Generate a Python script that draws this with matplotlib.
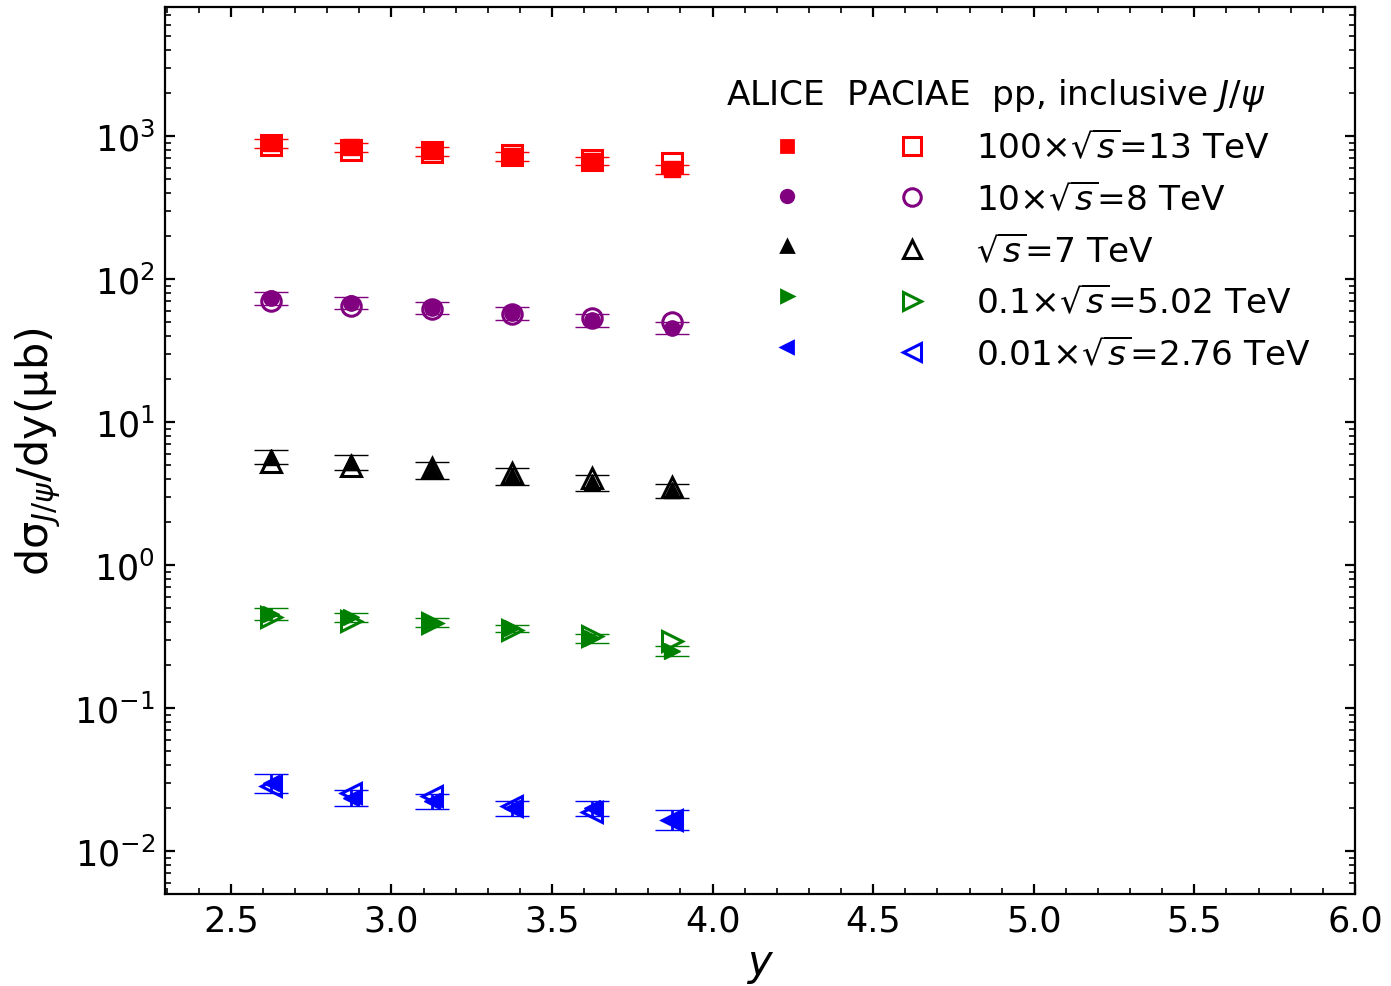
import numpy as np
import matplotlib
matplotlib.use("Agg")
import matplotlib.pyplot as plt
from matplotlib.lines import Line2D

# rapidity bin centres
rap = [2.625, 2.875, 3.125, 3.375, 3.625, 3.875]

# ALICE data (mu b), unscaled, with errors
alice_13 = [8.97, 8.41, 7.82, 7.25, 6.71, 5.90]
alice_13_err = [0.65, 0.61, 0.55, 0.50, 0.47, 0.43]
alice_8 = [7.34, 6.82, 6.29, 5.77, 5.14, 4.56]
alice_8_err = [0.78, 0.68, 0.62, 0.60, 0.53, 0.46]
alice_7 = [5.71, 5.29, 4.61, 4.19, 3.80, 3.33]
alice_7_err = [0.66, 0.64, 0.62, 0.56, 0.49, 0.38]
alice_502 = [4.56, 4.31, 3.97, 3.62, 3.09, 2.51]
alice_502_err = [0.43, 0.30, 0.26, 0.21, 0.22, 0.21]
alice_276 = [3.01, 2.36, 2.25, 1.99, 1.99, 1.66]
alice_276_err = [0.47, 0.30, 0.27, 0.24, 0.24, 0.26]

# PACIAE results (mu b), unscaled
paciae_13 = [8.68, 7.98, 7.73, 7.39, 6.82, 6.51]
paciae_8 = [7.02, 6.47, 6.17, 5.68, 5.33, 4.98]
paciae_7 = [5.27, 4.94, 4.77, 4.38, 4.06, 3.54]
paciae_502 = [4.36, 4.06, 3.92, 3.54, 3.19, 2.92]
paciae_276 = [2.86, 2.55, 2.42, 2.05, 1.88, 1.66]

scales = [100, 10, 1, 0.1, 0.01]
labels = [r'$100{\times}\sqrt{s}$=13 TeV', r'$10{\times}\sqrt{s}$=8 TeV',
          r'$\sqrt{s}$=7 TeV', r'$0.1{\times}\sqrt{s}$=5.02 TeV',
          r'$0.01{\times}\sqrt{s}$=2.76 TeV']
colors = ['red', 'purple', 'black', 'green', 'blue']
fill_markers = ['s', 'o', '^', '>', '<']

alice = [alice_13, alice_8, alice_7, alice_502, alice_276]
alice_err = [alice_13_err, alice_8_err, alice_7_err, alice_502_err, alice_276_err]
paciae = [paciae_13, paciae_8, paciae_7, paciae_502, paciae_276]

plt.rcParams['font.size'] = 12.6
plt.rcParams['mathtext.fontset'] = 'dejavusans'

fig, ax = plt.subplots(figsize=(6.955, 4.935), dpi=200)
fig.subplots_adjust(left=0.1186, right=0.9741, top=0.9919, bottom=0.0932)

x = np.array(rap)
for i in range(5):
    s = scales[i]
    ax.errorbar(x, np.array(alice[i]) * s, yerr=np.array(alice_err[i]) * s,
                fmt=fill_markers[i], color=colors[i], ms=5.5, mew=0.5,
                capsize=6, elinewidth=1, capthick=1, zorder=3)
    ax.plot(x, np.array(paciae[i]) * s, linestyle='none', marker=fill_markers[i],
            mfc='none', mec=colors[i], ms=7, mew=1.1, zorder=4)

ax.set_yscale('log')
ax.set_xlim(2.295, 6.0)
ax.set_ylim(5e-3, 8e3)
ax.set_xticks([2.5, 3.0, 3.5, 4.0, 4.5, 5.0, 5.5, 6.0])
ax.set_xticks(np.arange(2.3, 6.0, 0.1), minor=True)
ax.tick_params(which='both', direction='in', top=True, right=True)

ax.set_xlabel(r'$y$', fontsize=15, labelpad=2)
ax.set_ylabel(r'd$\mathregular{\sigma}_{J/\psi}$/dy(μb)', fontsize=15.5)

# legend: filled (ALICE) column, open (PACIAE) column with labels
handles = []
for i in range(5):
    handles.append(Line2D([], [], linestyle='none', marker=fill_markers[i],
                          color=colors[i], ms=4.5))
for i in range(5):
    handles.append(Line2D([], [], linestyle='none', marker=fill_markers[i],
                          mfc='none', mec=colors[i], ms=6.3, mew=1.1))
leg_labels = [''] * 5 + labels
leg = ax.legend(handles, leg_labels, ncol=2, frameon=False,
                title=r'ALICE  PACIAE  pp, inclusive $J/\psi$',
                title_fontsize=12.4, fontsize=12.4, alignment='left',
                handlelength=3.55, handletextpad=0.09, columnspacing=0.0,
                labelspacing=0.5, loc='upper left',
                bbox_to_anchor=(0.445, 0.957))

fig.savefig('out.png', dpi=200)
